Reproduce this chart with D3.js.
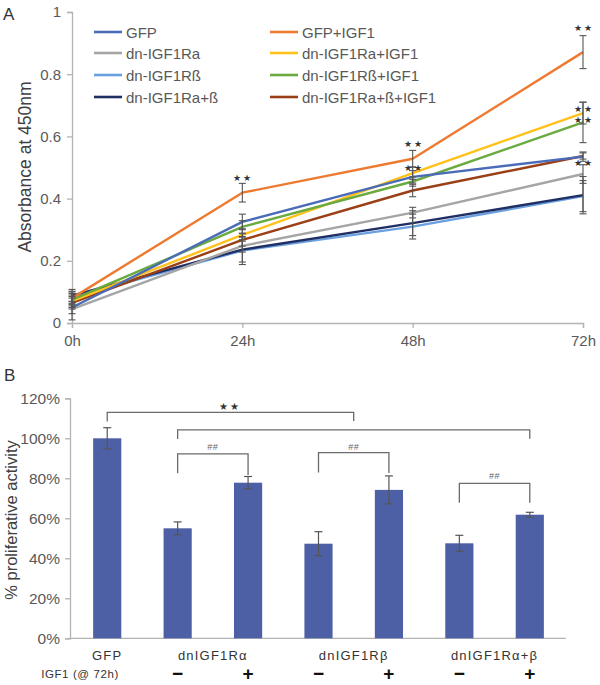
<!DOCTYPE html>
<html>
<head>
<meta charset="utf-8">
<script src="https://cdn.jsdelivr.net/npm/d3@7"></script>
<style>
  html, body { margin: 0; padding: 0; background: #ffffff; }
  svg { display: block; font-family: "Liberation Sans", Arial, sans-serif; }
</style>
</head>
<body>
<svg id="chart" width="600" height="685"></svg>
<script>
// ---------- Panel A data ----------
const timepoints = ['0h', '24h', '48h', '72h'];
const seriesNames = ['GFP', 'dn-IGF1Ra', 'dn-IGF1Rß', 'dn-IGF1Ra+ß',
                     'GFP+IGF1', 'dn-IGF1Ra+IGF1', 'dn-IGF1Rß+IGF1', 'dn-IGF1Ra+ß+IGF1'];
const seriesColors = ['#4a6cb8', '#a5a5a5', '#6a9fe0', '#1f2e63',
                      '#ee7a30', '#ffc11a', '#6aaa3f', '#9a3f16'];
const gfp          = [0.050, 0.325, 0.470, 0.535];
const dnA          = [0.045, 0.248, 0.355, 0.479];
const dnB          = [0.082, 0.233, 0.310, 0.408];
const dnAB         = [0.088, 0.236, 0.321, 0.411];
const gfpIGF       = [0.080, 0.419, 0.528, 0.871];
const dnAIGF       = [0.070, 0.283, 0.482, 0.675];
const dnBIGF       = [0.075, 0.309, 0.455, 0.645];
const dnABIGF      = [0.065, 0.267, 0.426, 0.537];
const gfpErr       = [0.020, 0.025, 0.020, 0.015];
const dnAErr       = [0.035, 0.020, 0.017, 0.030];
const dnBErr       = [0.020, 0.045, 0.040, 0.050];
const dnABErr      = [0.020, 0.040, 0.040, 0.060];
const gfpIGFErr    = [0.020, 0.030, 0.027, 0.053];
const dnAIGFErr    = [0.020, 0.020, 0.020, 0.035];
const dnBIGFErr    = [0.020, 0.020, 0.015, 0.065];
const dnABIGFErr   = [0.020, 0.020, 0.020, 0.010];
const yTicksA = [0, 0.2, 0.4, 0.6, 0.8, 1];
const starTimesA  = ['24h', '48h', '48h', '72h', '72h', '72h', '72h'];
const starValuesA = [0.466, 0.575, 0.500, 0.948, 0.689, 0.653, 0.516];

// ---------- Panel B data ----------
const barGroups = ['GFP', 'dnIGF1Rα', 'dnIGF1Rβ', 'dnIGF1Rα+β'];
const barIGF    = ['', '−', '+', '−', '+', '−', '+'];
const barValues = [100, 55, 77.8, 47.3, 74.2, 47.5, 61.8];
const barErrors = [5.3, 3.2, 3.1, 6.0, 7.0, 4.0, 1.2];
const yTicksB = [0, 20, 40, 60, 80, 100, 120];
const bracketFrom  = [0, 1, 1, 3, 5];
const bracketTo    = [3.5, 6, 2, 4, 6];
const bracketLevel = [113, 104.2, 92.2, 92.8, 77.5];
const bracketLegL  = [108.4, 99.7, 82.5, 82.9, 67.8];
const bracketLegR  = [108.6, 99.8, 81.7, 82.7, 67.8];
const bracketText  = ['★★', '', '##', '##', '##'];
const bracketTextLevel = [115.8, 0, 95.7, 95.7, 81.2];

const series = [gfp, dnA, dnB, dnAB, gfpIGF, dnAIGF, dnBIGF, dnABIGF];
const seriesErr = [gfpErr, dnAErr, dnBErr, dnABErr, gfpIGFErr, dnAIGFErr, dnBIGFErr, dnABIGFErr];
// draw order (back to front)
const drawOrder = [2, 3, 1, 7, 5, 6, 0, 4];

const svg = d3.select('#chart');
const textColor = '#595959';
const axisColor = '#b3b3b3';

// ================= Panel A =================
const xA = d3.scalePoint().domain(timepoints).range([72, 583]);
const yA = d3.scaleLinear().domain([0, 1]).range([323, 12]);
const gA = svg.append('g');

// y axis
const yAxisA = d3.axisLeft(yA).tickValues(yTicksA).tickSize(5).tickPadding(6)
  .tickFormat(d => d === 0 ? '0' : d3.format('.1~f')(d));
const gyA = gA.append('g').attr('transform', 'translate(72,0)').call(yAxisA);
gyA.select('.domain').attr('stroke', axisColor).attr('stroke-width', 1.3);
gyA.selectAll('.tick line').attr('stroke', axisColor).attr('stroke-width', 1.3);
gyA.selectAll('.tick text').attr('fill', textColor).attr('font-size', 15)
  .attr('font-family', '"Liberation Sans", Arial, sans-serif');

// x axis
const xAxisA = d3.axisBottom(xA).tickSize(5).tickPadding(7);
const gxA = gA.append('g').attr('transform', 'translate(0,323)').call(xAxisA);
gxA.select('.domain').attr('stroke', axisColor).attr('stroke-width', 1.3);
gxA.selectAll('.tick line').attr('stroke', axisColor).attr('stroke-width', 1.3);
gxA.selectAll('.tick text').attr('fill', textColor).attr('font-size', 15)
  .attr('font-family', '"Liberation Sans", Arial, sans-serif');

// y label
gA.append('text')
  .attr('transform', 'translate(25,167) rotate(-90)')
  .attr('text-anchor', 'middle').attr('dominant-baseline', 'central')
  .attr('font-size', 17.5).attr('fill', '#404040')
  .text('Absorbance at 450nm');

// panel letter
svg.append('text').attr('x', 3).attr('y', 20).attr('font-size', 17)
  .attr('fill', '#333').text('A');

// lines
const line = d3.line().x((d, i) => xA(timepoints[i])).y(d => yA(d));
drawOrder.forEach(si => {
  gA.append('path').datum(series[si])
    .attr('d', line).attr('fill', 'none')
    .attr('stroke', seriesColors[si]).attr('stroke-width', 2.4)
    .attr('stroke-linejoin', 'round');
});

// error bars
const errG = gA.append('g').attr('stroke', '#555').attr('stroke-width', 1.1);
series.forEach((s, si) => {
  s.forEach((v, i) => {
    const x = xA(timepoints[i]);
    const e = seriesErr[si][i];
    const y1 = yA(v + e), y2 = yA(Math.max(0, v - e));
    errG.append('line').attr('x1', x).attr('x2', x).attr('y1', y1).attr('y2', y2);
    errG.append('line').attr('x1', x - 3.5).attr('x2', x + 3.5).attr('y1', y1).attr('y2', y1);
    errG.append('line').attr('x1', x - 3.5).attr('x2', x + 3.5).attr('y1', y2).attr('y2', y2);
  });
});

// stars
starTimesA.forEach((t, i) => {
  gA.append('text')
    .attr('x', xA(t) + 1).attr('y', yA(starValuesA[i]))
    .attr('text-anchor', 'middle').attr('dominant-baseline', 'central')
    .attr('font-size', 9).attr('letter-spacing', 2).attr('fill', '#333')
    .text('★★');
});

// legend
const legendCols = [94, 270];
const legendRows = [32, 53, 75, 97];
seriesNames.forEach((name, i) => {
  const col = Math.floor(i / 4), row = i % 4;
  const lx = legendCols[col], ly = legendRows[row];
  gA.append('line').attr('x1', lx).attr('x2', lx + 28).attr('y1', ly).attr('y2', ly)
    .attr('stroke', seriesColors[i]).attr('stroke-width', 2.6);
  gA.append('text').attr('x', lx + 32).attr('y', ly)
    .attr('dominant-baseline', 'central').attr('font-size', 15)
    .attr('fill', textColor).text(name);
});

// ================= Panel B =================
const barIdx = d3.range(barValues.length);
const xB = d3.scaleBand().domain(barIdx).range([72, 565]).paddingInner(0.6).paddingOuter(0.3);
const yB = d3.scaleLinear().domain([0, 120]).range([638.3, 398.3]);
const gB = svg.append('g');
const cx = i => {
  const lo = Math.floor(i), frac = i - lo;
  const a = xB(lo) + xB.bandwidth() / 2;
  if (frac === 0) return a;
  const b = xB(lo + 1) + xB.bandwidth() / 2;
  return a + (b - a) * frac;
};

// y axis
const yAxisB = d3.axisLeft(yB).tickValues(yTicksB).tickSize(5).tickPadding(5)
  .tickFormat(d => d + '%');
const gyB = gB.append('g').attr('transform', 'translate(70,0)').call(yAxisB);
gyB.select('.domain').attr('stroke', axisColor).attr('stroke-width', 1.3);
gyB.selectAll('.tick line').attr('stroke', axisColor).attr('stroke-width', 1.3);
gyB.selectAll('.tick text').attr('fill', textColor).attr('font-size', 15.5)
  .attr('font-family', '"Liberation Sans", Arial, sans-serif');

// x axis line
gB.append('line').attr('x1', 70).attr('x2', 566).attr('y1', yB(0)).attr('y2', yB(0))
  .attr('stroke', axisColor).attr('stroke-width', 1.3);

// y label
gB.append('text')
  .attr('transform', 'translate(11,520) rotate(-90)')
  .attr('text-anchor', 'middle').attr('dominant-baseline', 'central')
  .attr('font-size', 16.5).attr('fill', '#404040')
  .text('% proliferative activity');

svg.append('text').attr('x', 4).attr('y', 381).attr('font-size', 17)
  .attr('fill', '#333').text('B');

// bars
gB.selectAll('rect.bar').data(barValues).join('rect').attr('class', 'bar')
  .attr('x', (d, i) => xB(i)).attr('width', xB.bandwidth())
  .attr('y', d => yB(d)).attr('height', d => yB(0) - yB(d))
  .attr('fill', '#4e60a5');

// error bars
const errB = gB.append('g').attr('stroke', '#555').attr('stroke-width', 1.2);
barValues.forEach((v, i) => {
  const x = cx(i), e = barErrors[i];
  const y1 = yB(v + e), y2 = yB(v - e);
  errB.append('line').attr('x1', x).attr('x2', x).attr('y1', y1).attr('y2', y2);
  errB.append('line').attr('x1', x - 4).attr('x2', x + 4).attr('y1', y1).attr('y2', y1);
  errB.append('line').attr('x1', x - 4).attr('x2', x + 4).attr('y1', y2).attr('y2', y2);
});

// brackets
bracketFrom.forEach((f, k) => {
  const x1 = cx(f), x2 = cx(bracketTo[k]);
  const path = d3.path();
  path.moveTo(x1, yB(bracketLegL[k]));
  path.lineTo(x1, yB(bracketLevel[k]));
  path.lineTo(x2, yB(bracketLevel[k]));
  path.lineTo(x2, yB(bracketLegR[k]));
  gB.append('path').attr('d', path.toString()).attr('fill', 'none')
    .attr('stroke', '#6b6b6b').attr('stroke-width', 1.3);
  if (bracketText[k]) {
    const isStar = bracketText[k] === '★★';
    gB.append('text').attr('x', (x1 + x2) / 2).attr('y', yB(bracketTextLevel[k]))
      .attr('text-anchor', 'middle').attr('dominant-baseline', 'central')
      .attr('font-size', isStar ? 10 : 9).attr('letter-spacing', isStar ? 2 : 0.5)
      .attr('fill', isStar ? '#333' : '#666').text(bracketText[k]);
  }
});

// category labels
const groupCenters = [cx(0), cx(1.5), cx(3.5), cx(5.5)];
barGroups.forEach((g, i) => {
  gB.append('text').attr('x', groupCenters[i]).attr('y', 655)
    .attr('text-anchor', 'middle').attr('dominant-baseline', 'central')
    .attr('font-size', 13).attr('letter-spacing', 1.2).attr('fill', '#333')
    .text(g);
});
gB.append('text').attr('x', 80).attr('y', 674)
  .attr('text-anchor', 'middle').attr('dominant-baseline', 'central')
  .attr('font-size', 11.5).attr('letter-spacing', 0.6).attr('fill', '#333')
  .text('IGF1 (@ 72h)');
barIGF.forEach((s, i) => {
  if (!s) return;
  gB.append('text').attr('x', cx(i)).attr('y', 673)
    .attr('text-anchor', 'middle').attr('dominant-baseline', 'central')
    .attr('font-size', 19).attr('font-weight', 'bold').attr('fill', '#111')
    .text(s);
});
</script>
</body>
</html>
